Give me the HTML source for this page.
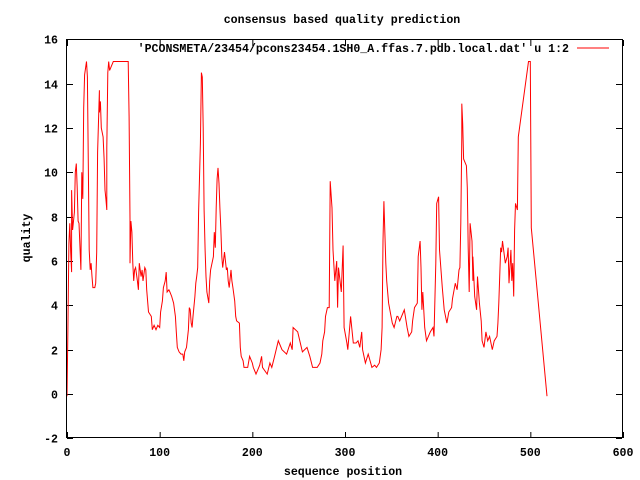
<!DOCTYPE html>
<html><head><meta charset="utf-8"><style>
body{margin:0;background:#fff}
svg{display:block}
text{font-family:"Liberation Mono",monospace;font-weight:bold;font-size:11.6px;fill:#000}
</style></head><body>
<svg id="chart" width="640" height="480" viewBox="0 0 640 480" xmlns="http://www.w3.org/2000/svg">
<rect x="0" y="0" width="640" height="480" fill="#fff"/>
<text x="342" y="23" text-anchor="middle">consensus based quality prediction</text>
<text x="343" y="475" text-anchor="middle">sequence position</text>
<text transform="translate(30,238) rotate(-90)" text-anchor="middle">quality</text>
<g id="axes"></g>
<polyline id="series" fill="none" stroke="#ff0000" stroke-width="1"/>
<rect x="66.5" y="39.5" width="556" height="398" fill="none" stroke="#000" stroke-width="1"/>
<text x="569" y="52" text-anchor="end">'PCONSMETA/23454/pcons23454.1SH0_A.ffas.7.pdb.local.dat' u 1:2</text>
<line x1="577" y1="48" x2="609" y2="48" stroke="#ff0000" stroke-width="1"/>
</svg>
<script>
const xTicks=[0,100,200,300,400,500,600];
const yTicks=[-2,0,2,4,6,8,10,12,14,16];
const xs=[0,1,2,3,4,5,5,6,8,9,10,11,12,13,14,15,16,17,18,19,21,22,23,24,25,26,27,28,30,31,32,33,35,35,36,37,39,40,41,42,43,43,44,45,46,49,50,66,67,68,68,69,70,71,72,73,74,76,77,78,80,81,82,84,85,86,87,88,91,92,94,96,98,100,101,103,104,106,107,108,110,111,113,115,117,118,119,121,123,125,126,127,129,131,132,133,134,135,136,138,139,140,141,142,144,145,146,147,148,149,150,151,153,154,155,158,159,160,161,162,163,164,165,166,167,168,170,172,173,174,175,177,178,179,181,182,183,186,187,188,190,191,193,195,197,200,201,204,206,208,210,211,216,219,221,224,228,232,237,241,243,244,249,254,259,262,265,270,273,275,276,278,279,281,283,284,286,287,289,291,292,293,296,298,299,302,303,306,309,312,314,316,318,319,322,325,329,332,334,337,339,340,341,342,344,345,347,351,353,356,357,359,363,364,367,369,372,373,375,378,379,381,382,383,384,386,388,392,395,396,398,399,401,402,405,407,410,412,415,416,419,421,423,424,425,426,426,427,428,431,432,433,434,435,437,438,438,440,442,443,445,447,448,450,452,454,456,459,461,464,465,466,468,469,470,473,475,476,477,479,480,481,482,483,484,486,487,498,500,501,518];
const ys=[-0.1,2.9,6.8,7.7,6.4,5.5,9.2,7.4,8.2,10.0,10.4,9.3,7.8,7.7,6.6,5.6,10.0,8.8,12.9,14.4,15,14.3,10.4,6.5,5.6,5.9,5.3,4.8,4.8,5.0,6.4,10.9,13.7,12.7,13.2,12.0,11.6,10.6,9.2,8.8,8.3,11.1,14.5,15,14.6,14.9,15,15,12.5,7.9,5.9,7.8,7.3,5.9,5.1,5.6,5.7,5.1,4.7,5.9,5.3,5.6,5.1,5.7,5.6,4.7,4.2,3.7,3.5,2.9,3.1,2.9,3.1,3.0,3.7,4.2,4.8,5.1,5.5,4.6,4.7,4.6,4.4,4.1,3.5,2.8,2.1,1.9,1.8,1.8,1.5,1.9,2.1,2.9,3.9,3.8,3.2,3.0,3.5,4.4,5.0,5.3,5.7,8.2,11.3,14.5,14.3,12.0,8.3,6.5,5.3,4.6,4.1,5.1,5.6,6.2,7.3,6.6,8.4,9.7,10.2,9.5,8.4,7.5,6.2,5.7,6.4,5.6,5.7,5.1,4.8,5.6,5.1,4.8,4.2,3.5,3.3,3.2,2.1,1.7,1.5,1.2,1.2,1.2,1.7,1.4,1.2,0.9,1.1,1.3,1.7,1.2,0.9,1.4,1.2,1.7,2.4,2.0,1.8,2.3,2.0,3.0,2.8,1.9,2.1,1.7,1.2,1.2,1.4,1.8,2.4,2.8,3.5,3.9,3.9,9.6,8.4,6.5,5.1,6.0,3.9,5.7,4.6,6.7,3.0,2.3,2.0,3.5,2.3,2.3,2.4,2.1,2.8,2.0,1.4,1.8,1.2,1.3,1.2,1.4,2.0,3.0,6.9,8.7,5.9,5.1,4.1,3.2,3.0,3.5,3.5,3.3,3.7,3.8,3.0,2.6,2.8,3.3,3.9,4.1,6.2,6.9,5.7,3.8,4.6,3.0,2.4,2.8,3.0,2.6,5.9,8.6,8.9,6.5,4.8,3.8,3.2,3.7,3.9,4.3,5.0,4.7,5.6,5.7,7.7,11.6,13.1,12.2,10.6,10.3,9.3,6.6,4.6,7.7,6.9,5.1,6.2,4.4,3.8,5.3,4.1,3.3,2.4,2.1,2.8,2.4,2.6,2.0,2.4,2.6,3.2,4.1,6.6,6.4,6.9,5.9,6.2,6.6,5.0,6.5,5.1,5.9,4.4,7.4,8.6,8.3,11.6,15,15,7.5,-0.1,-0.1];
const X0=67,XS=556/600,Y0=394,YS=399/18;
function sx(v){return X0+v*XS;}
function sy(v){return Y0-v*YS;}
const NS='http://www.w3.org/2000/svg';
const axes=document.getElementById('axes');
xTicks.forEach(function(t){
  const x=sx(t)+0.5;
  const a=document.createElementNS(NS,'line');
  a.setAttribute('x1',x);a.setAttribute('x2',x);a.setAttribute('y1',438);a.setAttribute('y2',432);a.setAttribute('stroke','#000');
  
  
  axes.appendChild(a);
  const b=document.createElementNS(NS,'line');
  b.setAttribute('x1',x);b.setAttribute('x2',x);b.setAttribute('y1',40);b.setAttribute('y2',46);b.setAttribute('stroke','#000');
  
  
  axes.appendChild(b);
  const l=document.createElementNS(NS,'text');
  l.setAttribute('x',sx(t));l.setAttribute('y',456);l.setAttribute('text-anchor','middle');
  l.textContent=t;
  
  
  axes.appendChild(l);
});
yTicks.forEach(function(t){
  const y=Math.round(sy(t))+0.5;
  const a=document.createElementNS(NS,'line');
  a.setAttribute('x1',67);a.setAttribute('x2',73);a.setAttribute('y1',y);a.setAttribute('y2',y);a.setAttribute('stroke','#000');
  
  
  axes.appendChild(a);
  const b=document.createElementNS(NS,'line');
  b.setAttribute('x1',616);b.setAttribute('x2',622);b.setAttribute('y1',y);b.setAttribute('y2',y);b.setAttribute('stroke','#000');
  
  
  axes.appendChild(b);
  const l=document.createElementNS(NS,'text');
  l.setAttribute('x',58);l.setAttribute('y',y+4);l.setAttribute('text-anchor','end');
  l.textContent=t;
  
  
  axes.appendChild(l);
});
const pts=xs.map(function(x,i){return sx(x).toFixed(1)+','+sy(ys[i]).toFixed(1);});
document.getElementById('series').setAttribute('points',pts.join(' '));
</script>
</body></html>
